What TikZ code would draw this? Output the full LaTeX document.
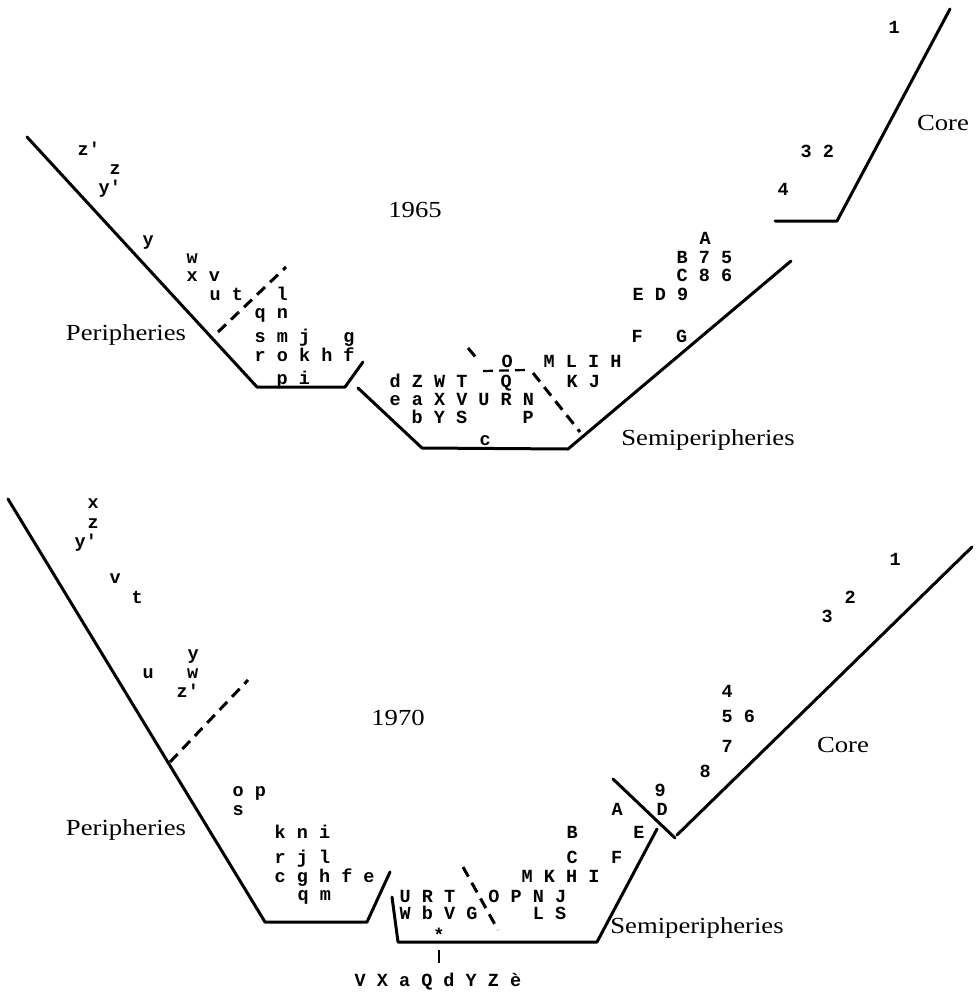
\documentclass[tikz,border=0pt]{standalone}
\usepackage{graphicx}
\usepackage{fontspec}
\setmainfont{Liberation Serif}
\newfontfamily\typew{Liberation Mono}
\newcommand\lab[4]{\node[lbl] (#1) at (#2-5.55,#3) {#4};}
\newcommand\zonetxt[1]{\scalebox{1.16}[1]{#1}}
\begin{document}
\begin{tikzpicture}[x=1pt,y=-1pt,
  lbl/.style={font=\typew\bfseries\fontsize{18.5}{18.5}\selectfont, inner sep=0pt, anchor=base west},
  zone/.style={font=\fontsize{23}{23}\selectfont, inner sep=0pt, anchor=center},
  wall/.style={line width=3pt, line cap=round, line join=round},
  divide/.style={line width=3pt, dash pattern=on 11pt off 7pt},
  tick/.style={line width=2.2pt}]
\useasboundingbox (0,0) rectangle (979,993);

% ---------------- 1965 ----------------
\coordinate (L1) at (27,137);
\coordinate (L2) at (257,387);
\coordinate (L3) at (345,387);
\coordinate (L4) at (363,362);
\coordinate (M1) at (358,388);
\coordinate (M2) at (422,448);
\coordinate (M3) at (568,449);
\coordinate (M4) at (791,261);
\coordinate (C1) at (775,221);
\coordinate (C2) at (837,221);
\coordinate (C3) at (950,9);
\draw[wall] (L1) -- (L2) -- (L3) -- (L4);
\draw[wall] (M1) -- (M2) -- (M3) -- (M4);
\draw[wall] (C1) -- (C2) -- (C3);
\coordinate (D1) at (218,332);
\coordinate (D2) at (286,267);
\draw[divide] (D1) -- (D2);
\coordinate (E1) at (468,348);
\coordinate (E2) at (479,361);
\coordinate (E3) at (483,371);
\coordinate (E4) at (526,370);
\coordinate (E5) at (533,373);
\coordinate (E6) at (580,432);
\draw[divide] (E1) -- (E2);
\draw[line width=2.2pt, dash pattern=on 10pt off 6pt] (E3) -- (E4);
\draw[divide] (E5) -- (E6);

\lab{tzp}{83}{155}{z'}
\lab{tz}{115}{174}{z}
\lab{typ}{104}{193}{y'}
\lab{ty}{148}{245}{y}
\lab{tw}{192}{263}{w}
\lab{txv}{192}{281}{x~v}
\lab{tut}{215}{300}{u~t}
\lab{tl}{282}{300}{l}
\lab{tqn}{260}{318}{q~n}
\lab{tsm}{260}{342}{s~m~j~~~g}
\lab{tro}{260}{361}{r~o~k~h~f}
\lab{tpi}{282}{384}{p~i}

\lab{tdz}{395}{387}{d~Z~W~T~~~Q}
\lab{tkj}{572}{387}{K~J}
\lab{to}{507}{367}{O}
\lab{tml}{549}{367}{M~L~I~H}
\lab{tea}{395}{405}{e~a~X~V~U~R~N}
\lab{tby}{417}{423}{b~Y~S~~~~~P}
\lab{tc}{485}{445}{c}

\lab{tf}{637}{342}{F~~~G}
\lab{te}{638}{300}{E~D~9}
\lab{tc8}{682}{281}{C~8~6}
\lab{tb7}{682}{263}{B~7~5}
\lab{ta}{705}{244}{A}
\lab{t1}{894}{33}{1}
\lab{t32}{806}{157}{3~2}
\lab{t4}{783}{195}{4}

\node[zone] (y65) at (415,210) {\zonetxt{1965}};
\node[zone] (per65) at (126,335) {\zonetxt{Peripheries}};
\node[zone] (core65) at (943,123) {\zonetxt{Core}};
\node[zone] (semi65) at (708,440) {\zonetxt{Semiperipheries}};

% ---------------- 1970 ----------------
\coordinate (l1) at (8,499);
\coordinate (l2) at (265,922);
\coordinate (l3) at (367,922);
\coordinate (l4) at (390,872);
\coordinate (m1) at (392,897);
\coordinate (m2) at (398,942);
\coordinate (m3) at (597,942);
\coordinate (m4) at (657,829);
\coordinate (x1) at (613,779);
\coordinate (x2) at (675,838);
\coordinate (c1) at (677,835);
\coordinate (c2) at (972,547);
\draw[wall] (l1) -- (l2) -- (l3) -- (l4);
\draw[wall] (m1) -- (m2) -- (m3) -- (m4);
\draw[wall] (x1) -- (x2);
\draw[wall] (c1) -- (c2);
\coordinate (d1) at (170,762);
\coordinate (d2) at (248,680);
\draw[divide] (d1) -- (d2);
\coordinate (e1) at (463,867);
\coordinate (e2) at (498,930);
\draw[divide] (e1) -- (e2);
\coordinate (k1) at (439,950);
\coordinate (k2) at (439,963);
\draw[tick] (k1) -- (k2);

\lab{bx}{93}{508}{x}
\lab{bz}{93}{528}{z}
\lab{byp}{80}{547}{y'}
\lab{bv}{115}{583}{v}
\lab{bt}{137}{603}{t}
\lab{by}{193}{659}{y}
\lab{bu}{148}{678}{u~~~w}
\lab{bzp}{182}{697}{z'}
\lab{bop}{238}{796}{o~p}
\lab{bs}{238}{815}{s}
\lab{bkn}{280}{838}{k~n~i}
\lab{brj}{280}{863}{r~j~l}
\lab{bcg}{280}{882}{c~g~h~f~e}
\lab{bqm}{303}{900}{q~m}
\lab{bur}{405}{902}{U~R~T~~~O~P~N~J}
\lab{bwb}{405}{919}{W~b~V~G~~~~~L~S}
\node[lbl, anchor=base] (star) at (439,941) {*};
\lab{bmk}{527}{882}{M~K~H~I}
\lab{bc}{572}{863}{C~~~F}
\lab{bb}{572}{838}{B~~~~~E}
\lab{ba}{617}{815}{A}
\lab{b9}{660}{796}{9}
\lab{bd}{662}{815}{D}
\lab{b1}{895}{565}{1}
\lab{b2}{850}{603}{2}
\lab{b3}{827}{622}{3}
\lab{b4}{727}{697}{4}
\lab{b56}{727}{722}{5~6}
\lab{b7}{727}{752}{7}
\lab{b8}{705}{777}{8}
\lab{bvx}{360}{986}{V~X~a~Q~d~Y~Z~è}

\node[zone] (y70) at (398,718) {\zonetxt{1970}};
\node[zone] (per70) at (126,830) {\zonetxt{Peripheries}};
\node[zone] (core70) at (843,745) {\zonetxt{Core}};
\node[zone] (semi70) at (697,928) {\zonetxt{Semiperipheries}};
\end{tikzpicture}
\end{document}
